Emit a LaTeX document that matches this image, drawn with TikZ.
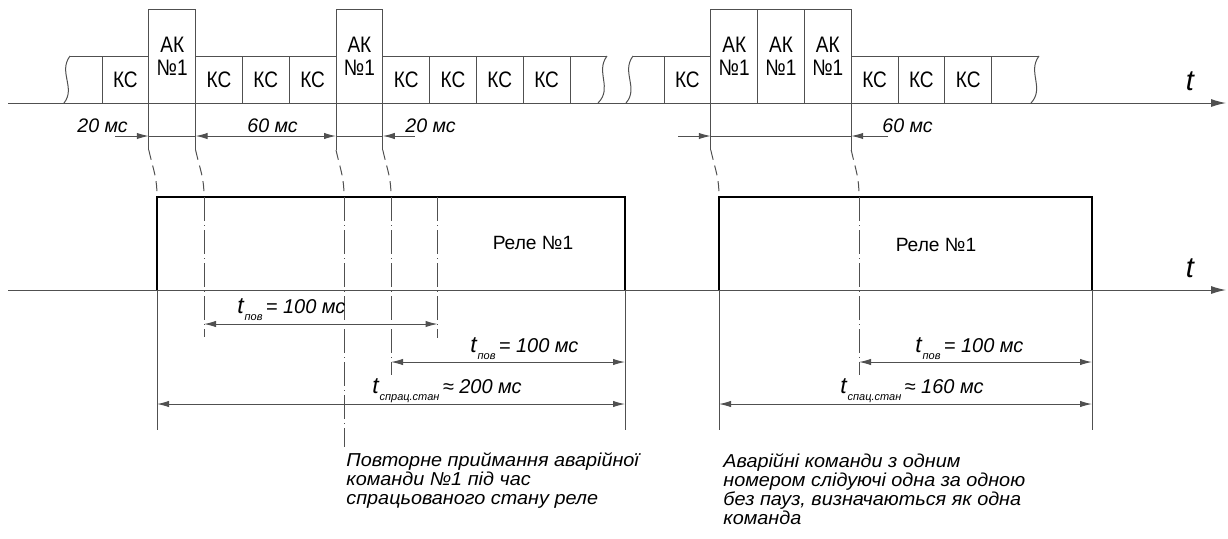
\documentclass[tikz,border=0pt]{standalone}
\usepackage{fontspec}
\setmainfont{Liberation Sans}
\newfontfamily\boxfont{Liberation Sans}[FakeStretch=0.85]
\newfontfamily\notefont{Liberation Sans}[FakeStretch=1.06]
\usetikzlibrary{arrows.meta,calc}
\definecolor{lg}{HTML}{505050}
\newcommand{\tlab}[2]{\textit{\fontsize{11.5}{11.5}\selectfont t}\raisebox{-0.75ex}{\fontsize{5.5}{6}\selectfont\textit{#1}}\,\textit{#2}}
\begin{document}
\begin{tikzpicture}[x=0.5pt,y=-0.5pt,
  ln/.style={draw=lg, line width=0.5pt},
  box/.style={ln, minimum width=23.4pt, minimum height=23.5pt, inner sep=0pt, outer sep=0pt,
    anchor=south west, font=\boxfont\fontsize{11.2}{11.5}\selectfont},
  akbox/.style={box, minimum height=47pt, align=center},
  dimtip/.style={ln, -{Latex[length=6pt,width=3.2pt]}},
  dimboth/.style={ln, {Latex[length=6pt,width=3.2pt]}-{Latex[length=6pt,width=3.2pt]}},
  axis/.style={ln, -{Latex[length=7.5pt,width=4pt]}},
  dashdot/.style={ln, dash pattern=on 12pt off 2pt on 0.5pt off 2pt},
  slant/.style={ln, dash pattern=on 5pt off 3pt},
  pulse/.style={draw=black, line width=1pt},
  dimlbl/.style={anchor=base west, inner sep=0pt, font=\itshape\fontsize{9.8}{10}\selectfont},
  tlbl/.style={anchor=base west, inner sep=0pt, font=\fontsize{10}{10}\selectfont},
  axlbl/.style={inner sep=0pt, font=\itshape\fontsize{14.5}{15}\selectfont},
  relay/.style={inner sep=0pt, font=\fontsize{9.6}{10}\selectfont},
  note/.style={anchor=north west, inner sep=0pt, align=left, font=\notefont\itshape\fontsize{9.35}{9.55}\selectfont}
]
\useasboundingbox (0,0) rectangle (1228,538);

% ---------- top tape, group 1 ----------
\node[box] (k1) at (102,103) {КС};
\node[akbox] (a1) at (148.8,103) {АК\\№1};
\node[box] (k2) at (195.6,103) {КС};
\node[box] (k3) at (242.4,103) {КС};
\node[box] (k4) at (289.2,103) {КС};
\node[akbox] (a2) at (336,103) {АК\\№1};
\node[box] (k5) at (382.8,103) {КС};
\node[box] (k6) at (429.6,103) {КС};
\node[box] (k7) at (476.4,103) {КС};
\node[box] (k8) at (523.2,103) {КС};
% ---------- top tape, group 2 ----------
\node[box] (k9) at (664,103) {КС};
\node[akbox] (a3) at (710.8,103) {АК\\№1};
\node[akbox] (a4) at (757.6,103) {АК\\№1};
\node[akbox] (a5) at (804.4,103) {АК\\№1};
\node[box] (k10) at (851.2,103) {КС};
\node[box] (k11) at (898,103) {КС};
\node[box] (k12) at (944.8,103) {КС};

% wavy breaks and open tape edges
\coordinate (w1t) at (70,56);   \coordinate (w1b) at (64,103);
\coordinate (w2t) at (607,56);  \coordinate (w2b) at (598,103);
\coordinate (w3t) at (633,56);  \coordinate (w3b) at (626,103);
\coordinate (w4t) at (1039,56); \coordinate (w4b) at (1031,103);
\draw[ln] (w1t) .. controls (58,72) and (76,88) .. (w1b);
\draw[ln] (w2t) .. controls (595,72) and (613,88) .. (w2b);
\draw[ln] (w3t) .. controls (621,72) and (639,88) .. (w3b);
\draw[ln] (w4t) .. controls (1027,72) and (1045,88) .. (w4b);
\draw[ln] (w1t) -- (k1.north west);
\draw[ln] (k8.north east) -- (w2t);
\draw[ln] (w3t) -- (k9.north west);
\draw[ln] (k12.north east) -- (w4t);

% time axes
\coordinate (ax1s) at (8,103);  \coordinate (ax1e) at (1226,103);
\coordinate (ax2s) at (8,290);  \coordinate (ax2e) at (1226,290);
\draw[axis] (ax1s) -- (ax1e);
\draw[axis] (ax2s) -- (ax2e);
\node[axlbl] (t1) at (1190,81) {t};
\node[axlbl] (t2) at (1190,268) {t};

% extension lines below the top tape
\foreach \n/\a in {e1/a1.south west, e2/a1.south east, e3/a2.south west, e4/a2.south east, e5/a3.south west, e6/a5.south east}{
  \draw[ln] (\a) -- ++(0,47) coordinate (\n);
}

% top dimensions
\coordinate (d1) at (115,136); \coordinate (d2) at (415,136);
\coordinate (d3) at (678,136); \coordinate (d4) at (888,136);
\draw[dimtip] (d1) -- (e1 |- d1);
\draw[ln] (e1 |- d1) -- (e2 |- d1);
\draw[dimboth] (e2 |- d1) -- (e3 |- d1);
\draw[ln] (e3 |- d1) -- (e4 |- d1);
\draw[dimtip] (d2) -- (e4 |- d2);
\draw[dimtip] (d3) -- (e5 |- d3);
\draw[ln] (e5 |- d3) -- (e6 |- d3);
\draw[dimtip] (d4) -- (e6 |- d4);
\node[dimlbl] (l20a) at (77,132) {20 мс};
\node[dimlbl] (l60a) at (247,132) {60 мс};
\node[dimlbl] (l20b) at (405,132) {20 мс};
\node[dimlbl] (l60b) at (882,132) {60 мс};

% relay pulses
\coordinate (r1bl) at (157,290); \coordinate (r1tl) at (157,197);
\coordinate (r1tr) at (625,197); \coordinate (r1br) at (625,290);
\coordinate (r2bl) at (719,290); \coordinate (r2tl) at (719,197);
\coordinate (r2tr) at (1092,197); \coordinate (r2br) at (1092,290);
\draw[pulse] (r1bl) -- (r1tl) -- (r1tr) -- (r1br);
\draw[pulse] (r2bl) -- (r2tl) -- (r2tr) -- (r2br);
\node[relay] (rl1) at (533,243) {Реле №1};
\node[relay] (rl2) at (936,245) {Реле №1};

% slanted projection lines
\coordinate (p1) at (204,197); \coordinate (p2) at (344,197);
\coordinate (p3) at (391,197); \coordinate (p5) at (859,197);
\foreach \s/\t in {e1/r1tl, e2/p1, e3/p2, e4/p3, e5/r2tl, e6/p5}{
  \draw[slant] (\s) .. controls ($(\s)+(5,22)$) and ($(\t)+(0,-20)$) .. (\t);
}

% dash-dot verticals
\coordinate (p4) at (437.5,197);
\coordinate (q1) at (204,337); \coordinate (q2) at (344,447);
\coordinate (q3) at (391,375); \coordinate (q4) at (437.5,338);
\coordinate (q5) at (859,375);
\draw[dashdot] (p1) -- (q1);
\draw[dashdot] (p2) -- (q2);
\draw[dashdot] (p3) -- (q3);
\draw[dashdot] (p4) -- (q4);
\draw[dashdot] (p5) -- (q5);

% solid extension lines below relay axis
\foreach \c/\n in {r1bl/x1, r1br/x2, r2bl/x3, r2br/x4}{
  \draw[ln] (\c) -- ++(0,140) coordinate (\n);
}

% lower dimensions
\draw[dimboth] (204,324) -- (437.5,324);
\draw[dimboth] (391,362) -- (625,362);
\draw[dimboth] (157,404) -- (625,404);
\draw[dimboth] (859,362) -- (1092,362);
\draw[dimboth] (719,404) -- (1092,404);
\node[tlbl] (tp1) at (237,313) {\tlab{пов}{= 100 мс}};
\node[tlbl] (tp2) at (470,352) {\tlab{пов}{= 100 мс}};
\node[tlbl] (ts1) at (372,393) {\tlab{спрац.стан}{≈ 200 мс}};
\node[tlbl] (tp3) at (915,352) {\tlab{пов}{= 100 мс}};
\node[tlbl] (ts2) at (840,393) {\tlab{спац.стан}{≈ 160 мс}};

% notes
\node[note] (n1) at (346,452) {Повторне приймання аварійної\\команди №1 під час\\спрацьованого стану реле};
\node[note] (n2) at (723,453) {Аварійні команди з одним\\номером слідуючі одна за одною\\без пауз, визначаються як одна\\команда};
\end{tikzpicture}
\end{document}
